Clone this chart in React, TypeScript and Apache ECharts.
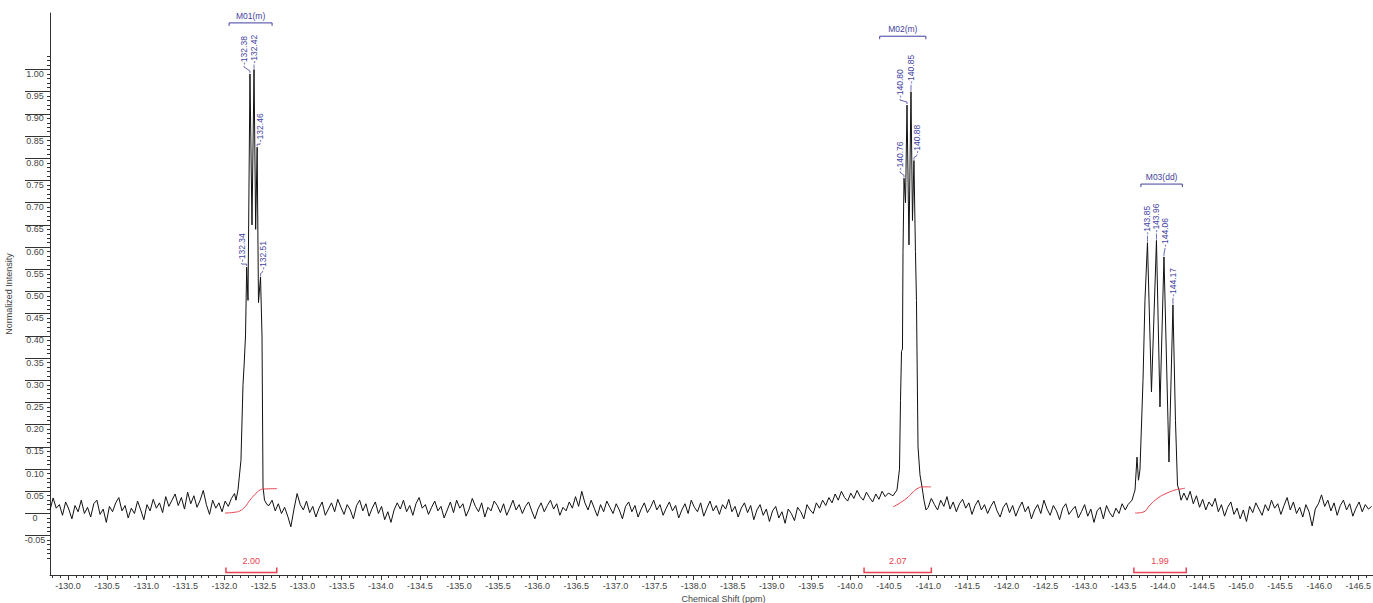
import React, { useEffect, useRef } from 'react';
import * as echarts from 'echarts';

// ---------- axis tick labels ----------
const X_TICK_LABELS = ['-130.0','-130.5','-131.0','-131.5','-132.0','-132.5','-133.0','-133.5','-134.0','-134.5','-135.0','-135.5','-136.0','-136.5','-137.0','-137.5','-138.0','-138.5','-139.0','-139.5','-140.0','-140.5','-141.0','-141.5','-142.0','-142.5','-143.0','-143.5','-144.0','-144.5','-145.0','-145.5','-146.0','-146.5'];
const Y_TICK_LABELS = ['-0.05','0','0.05','0.10','0.15','0.20','0.25','0.30','0.35','0.40','0.45','0.50','0.55','0.60','0.65','0.70','0.75','0.80','0.85','0.90','0.95','1.00'];

// ---------- baseline (noise) segments, sampled every 0.04 ppm ----------
const STEP = 0.04;
const SEG1_START = -129.77;
const SEG1 = [0.008,0.035,0.012,0.02,-0.004,0.026,0.01,-0.012,0.018,0.004,
  0.03,0.0,0.014,-0.008,0.022,0.03,-0.002,0.01,-0.02,0.016,
  0.004,0.024,0.036,0.006,0.018,-0.01,0.012,0.0,0.028,0.008,
  -0.014,0.02,0.006,0.032,0.012,0.024,0.002,0.038,0.016,0.03,
  0.044,0.018,0.036,0.01,0.048,0.022,0.04,0.014,0.03,0.052,
  0.02,-0.002,0.03,0.012,0.024,0.004,0.028,0.016,0.034,0.045];
const SEG2_START = -132.57;
const SEG2 = [0.018,0.03,0.006,0.022,0.0,0.014,-0.006,-0.03,0.01,0.045,
  0.02,0.008,0.028,0.002,0.016,-0.008,0.012,0.026,-0.004,0.01,
  0.024,0.004,0.032,0.014,-0.002,0.02,0.008,-0.012,0.018,0.03,
  0.006,0.022,-0.006,0.012,0.026,0.0,0.016,-0.014,0.004,-0.02,
  0.008,0.024,0.01,0.03,0.004,0.018,-0.004,0.022,0.036,0.012,
  0.02,-0.002,0.014,0.028,0.006,0.016,-0.01,0.008,0.026,0.002,
  0.03,0.012,0.022,-0.006,0.01,0.034,0.016,0.004,0.024,-0.008,
  0.014,0.006,0.028,0.018,0.002,0.022,-0.004,0.012,0.03,0.008,
  0.02,0.0,0.016,0.026,0.006,-0.012,0.01,0.024,0.004,0.018,
  0.03,0.01,0.022,-0.004,0.014,0.006,0.026,0.012,0.038,0.016,
  0.05,0.024,0.008,0.03,0.012,-0.006,0.02,0.004,0.028,0.014,
  0.0,0.022,0.008,-0.012,0.016,0.026,0.004,0.018,-0.008,0.01,
  0.024,0.002,0.014,0.03,0.008,0.02,-0.004,0.012,0.026,0.006,
  0.018,-0.01,0.008,0.022,0.0,0.03,0.014,0.004,0.024,-0.006,
  0.012,0.028,0.006,0.018,-0.002,0.02,0.01,0.032,0.004,0.016,
  -0.008,0.012,0.024,0.002,0.018,-0.014,0.008,0.02,-0.004,0.01,
  -0.018,0.006,0.016,-0.01,0.004,-0.022,0.01,0.0,-0.016,0.014,
  0.004,-0.012,0.02,0.008,0.0,0.024,0.012,0.03,0.018,0.036,
  0.024,0.044,0.03,0.05,0.036,0.028,0.046,0.034,0.052,0.038,
  0.03,0.048,0.036,0.026,0.044,0.032,0.05,0.038,0.046,0.042];
const SEG3_START = -141.0;
const SEG3 = [0.014,0.034,0.02,0.008,0.03,0.016,0.038,0.01,0.026,0.004,
  0.022,0.032,0.012,0.024,-0.002,0.018,0.03,0.008,0.02,0.0,
  0.016,0.028,0.006,-0.008,0.014,0.024,0.002,0.018,-0.006,0.012,
  0.026,0.004,0.016,-0.012,0.008,0.02,0.0,0.03,0.01,-0.004,
  0.018,0.006,-0.014,0.012,0.022,-0.002,0.008,0.016,-0.01,0.004,
  0.02,-0.006,0.01,-0.02,0.006,0.014,-0.012,0.018,0.002,-0.008,
  0.012,0.0,0.022,0.008];
const SEG4_START = -144.27;
const SEG4 = [0.046,0.03,0.05,0.022,0.04,0.014,0.032,0.008,0.026,0.016,
  0.034,0.004,0.02,-0.006,0.014,0.026,-0.002,0.012,-0.012,0.008,
  -0.018,0.016,0.002,0.024,0.01,-0.004,0.02,0.006,0.03,0.012,
  0.022,-0.002,0.018,0.036,0.008,0.026,0.0,0.014,-0.008,0.02,
  0.004,-0.028,0.01,0.022,0.042,0.016,0.03,0.006,0.024,-0.004,
  0.018,0.03,0.008,0.022,-0.006,0.012,0.026,0.004,0.02,0.01,0.016];

// ---------- multiplets ----------
const M01_SHIFT = [-132.148,-132.174,-132.212,-132.238,-132.251,-132.270,-132.285,-132.302,-132.327,-132.353,-132.379,-132.400,-132.419,-132.436,-132.462,-132.481,-132.494,-132.513,-132.545];
const M01_INT = [0.03,0.053,0.12,0.29,0.33,0.40,0.555,0.48,0.99,0.65,1.0,0.64,0.825,0.475,0.533,0.40,0.06,0.03,0.02];
const M02_SHIFT = [-140.550,-140.601,-140.633,-140.646,-140.659,-140.671,-140.678,-140.691,-140.710,-140.729,-140.754,-140.780,-140.799,-140.818,-140.837,-140.850,-140.870,-140.895,-140.921,-140.946,-140.972];
const M02_INT = [0.04,0.053,0.10,0.255,0.365,0.37,0.59,0.755,0.70,0.92,0.605,0.95,0.66,0.795,0.59,0.48,0.15,0.087,0.06,0.03,0.008];
const M03_SHIFT = [-143.555,-143.606,-143.645,-143.670,-143.689,-143.708,-143.747,-143.772,-143.804,-143.855,-143.919,-143.964,-144.015,-144.079,-144.130,-144.162,-144.188,-144.207,-144.233];
const M03_INT = [0.02,0.03,0.053,0.127,0.075,0.098,0.30,0.48,0.61,0.274,0.615,0.24,0.578,0.116,0.47,0.21,0.064,0.053,0.03];

// ---------- integral curves ----------
const INT1_SHIFT = [-132.008,-132.136,-132.199,-132.263,-132.327,-132.391,-132.455,-132.494,-132.673];
const INT1_VAL = [0.001,0.003,0.006,0.015,0.03,0.043,0.053,0.055,0.056];
const INT2_SHIFT = [-140.55,-140.614,-140.729,-140.793,-140.870,-140.934,-141.036];
const INT2_VAL = [0.015,0.021,0.035,0.046,0.057,0.06,0.06];
const INT3_SHIFT = [-143.645,-143.747,-143.836,-143.939,-144.054,-144.156,-144.22,-144.284];
const INT3_VAL = [0.001,0.003,0.019,0.035,0.046,0.053,0.055,0.057];

// ---------- annotations ----------
const PEAK_LABELS = ['-132.34','-132.38','-132.42','-132.46','-132.51','-140.76','-140.80','-140.85','-140.88','-143.85','-143.96','-144.06','-144.17'];
const PEAK_AT = [-132.285,-132.327,-132.379,-132.419,-132.462,-140.691,-140.729,-140.780,-140.818,-143.804,-143.919,-144.015,-144.130];
const LABEL_DX = [-5,-6,0,3,2,-4,-7,0,3,0,0,1,0];
const LABEL_GAP = [5,9,6,5,7,8,7,8,7,8,8,10,8];

const MULTIPLET_NAMES = ['M01(m)','M02(m)','M03(dd)'];
const MULTIPLET_FROM = [-132.06,-140.38,-143.72];
const MULTIPLET_TO = [-132.61,-140.97,-144.25];
const MULTIPLET_LEVEL = [1.105,1.075,0.742];

const INTEGRAL_TEXT = ['2.00','2.07','1.99'];
const INTEGRAL_FROM = [-132.02,-140.18,-143.63];
const INTEGRAL_TO = [-132.67,-141.04,-144.30];
const INTEGRAL_LEVEL = -0.133;

const X_MIN = -146.688;
const X_MAX = -129.77;
const Y_MIN = -0.1385;
const Y_MAX = 1.1273;

const FONT = '"Liberation Sans", Arial, sans-serif';
const BLUE = '#3f3fa0';
const RED = '#e8424f';

function buildSpectrum(): [number, number][] {
  const pts: [number, number][] = [];
  const addSeg = (start: number, vals: number[]) =>
    vals.forEach((v, i) => pts.push([+(start - i * STEP).toFixed(3), v]));
  addSeg(SEG1_START, SEG1);
  addSeg(SEG2_START, SEG2);
  addSeg(SEG3_START, SEG3);
  addSeg(SEG4_START, SEG4);
  const addPk = (s: number[], v: number[]) => s.forEach((x, i) => pts.push([x, v[i]]));
  addPk(M01_SHIFT, M01_INT);
  addPk(M02_SHIFT, M02_INT);
  addPk(M03_SHIFT, M03_INT);
  pts.sort((a, b) => b[0] - a[0]);
  return pts;
}

const zip = (a: number[], b: number[]) => a.map((x, i) => [x, b[i]]);

export default function App() {
  const ref = useRef<HTMLDivElement>(null);
  useEffect(() => {
    if (!ref.current) return;
    const chart = echarts.init(ref.current, null, { renderer: 'svg' });
    const spectrum = buildSpectrum();
    const xMajor = X_TICK_LABELS.map(Number);
    const yMajor = Y_TICK_LABELS.map(Number);
    const xMinor: number[] = [];
    for (let i = 1298; i <= 1466; i++) xMinor.push(-i / 10);
    const yMinor: number[] = [];
    for (let i = -10; i <= 103; i++) yMinor.push(i / 100);

    const axisColor = '#333';
    const textColor = '#444';

    chart.setOption({
      animation: false,
      backgroundColor: '#fff',
      grid: { left: 50, right: 0, top: 13, bottom: 28, containLabel: false, outerBoundsMode: 'none' },
      xAxis: [
        {
          type: 'value', inverse: true, min: X_MIN, max: X_MAX, position: 'bottom',
          name: 'Chemical Shift (ppm)', nameLocation: 'middle', nameGap: 14,
          nameTextStyle: { fontFamily: FONT, fontSize: 9, color: textColor, padding: [0, 0, 0, 24] },
          axisLine: { show: true, onZero: false, lineStyle: { color: axisColor, width: 1 } },
          axisTick: { show: true, customValues: xMajor, length: 5, lineStyle: { color: axisColor } },
          axisLabel: { show: true, customValues: xMajor, margin: 6, fontFamily: FONT, fontSize: 9, color: textColor,
            formatter: (v: number) => v.toFixed(1) },
          splitLine: { show: false },
        },
        {
          type: 'value', inverse: true, min: X_MIN, max: X_MAX, position: 'bottom',
          axisLine: { show: false, onZero: false },
          axisTick: { show: true, customValues: xMinor, length: 3, lineStyle: { color: axisColor } },
          axisLabel: { show: false },
          splitLine: { show: false },
        },
      ],
      yAxis: [
        {
          type: 'value', min: Y_MIN, max: Y_MAX, position: 'left',
          name: 'Normalized Intensity', nameLocation: 'middle', nameGap: 29,
          nameTextStyle: { fontFamily: FONT, fontSize: 9, color: textColor },
          axisLine: { show: true, onZero: false, lineStyle: { color: axisColor, width: 1 } },
          axisTick: { show: true, customValues: yMajor, length: 25, lineStyle: { color: axisColor } },
          axisLabel: { show: true, customValues: yMajor, margin: 15, align: 'center', verticalAlign: 'top',
            fontFamily: FONT, fontSize: 9, color: textColor,
            formatter: (v: number) => (Math.abs(v) < 1e-9 ? '0' : v.toFixed(2)) },
          splitLine: { show: false },
        },
        {
          type: 'value', min: Y_MIN, max: Y_MAX, position: 'left',
          axisLine: { show: false, onZero: false },
          axisTick: { show: true, customValues: yMinor, length: 3, lineStyle: { color: axisColor } },
          axisLabel: { show: false },
          splitLine: { show: false },
        },
      ],
      series: [
        { type: 'line', data: spectrum, symbol: 'none', lineStyle: { color: '#111', width: 1 }, xAxisIndex: 0, yAxisIndex: 0, z: 3 },
        { type: 'line', data: zip(INT1_SHIFT, INT1_VAL), smooth: true, symbol: 'none', lineStyle: { color: RED, width: 1 }, z: 4 },
        { type: 'line', data: zip(INT2_SHIFT, INT2_VAL), smooth: true, symbol: 'none', lineStyle: { color: RED, width: 1 }, z: 4 },
        { type: 'line', data: zip(INT3_SHIFT, INT3_VAL), smooth: true, symbol: 'none', lineStyle: { color: RED, width: 1 }, z: 4 },
      ],
    });

    const px = (x: number, y: number) => chart.convertToPixel({ xAxisIndex: 0, yAxisIndex: 0 }, [x, y]) as number[];
    const graphics: any[] = [];

    PEAK_LABELS.forEach((lab, i) => {
      const pt = spectrum.find((p) => Math.abs(p[0] - PEAK_AT[i]) < 1e-6);
      if (!pt) return;
      const [pxX, pxY] = px(pt[0], pt[1]);
      const lx = pxX + LABEL_DX[i];
      const bottom = pxY - LABEL_GAP[i];
      graphics.push({
        type: 'text', x: lx, y: bottom, rotation: Math.PI / 2,
        style: { text: lab, fill: BLUE, font: `8.5px ${FONT}`, align: 'left', verticalAlign: 'middle' },
      });
      graphics.push({
        type: 'polyline',
        shape: { points: [[lx, bottom + 1], [lx, bottom + 2], [pxX, pxY - 3], [pxX, pxY - 1]] },
        style: { stroke: BLUE, lineWidth: 0.8, fill: null },
      });
    });

    MULTIPLET_NAMES.forEach((name, i) => {
      const [x1, y] = px(MULTIPLET_FROM[i], MULTIPLET_LEVEL[i]);
      const [x2] = px(MULTIPLET_TO[i], MULTIPLET_LEVEL[i]);
      graphics.push({
        type: 'polyline',
        shape: { points: [[x1, y + 3], [x1, y], [x2, y], [x2, y + 3]] },
        style: { stroke: BLUE, lineWidth: 1, fill: null },
      });
      graphics.push({
        type: 'text', x: (x1 + x2) / 2, y: y - 7,
        style: { text: name, fill: BLUE, font: `8.5px ${FONT}`, align: 'center', verticalAlign: 'middle' },
      });
    });

    INTEGRAL_TEXT.forEach((t, i) => {
      const [x1, y] = px(INTEGRAL_FROM[i], INTEGRAL_LEVEL);
      const [x2] = px(INTEGRAL_TO[i], INTEGRAL_LEVEL);
      graphics.push({
        type: 'polyline',
        shape: { points: [[x1, y - 5], [x1, y], [x2, y], [x2, y - 5]] },
        style: { stroke: RED, lineWidth: 1.5, fill: null },
      });
      graphics.push({
        type: 'text', x: (x1 + x2) / 2, y: y - 12,
        style: { text: t, fill: RED, font: `9px ${FONT}`, align: 'center', verticalAlign: 'middle' },
      });
    });

    chart.setOption({ graphic: graphics });
    return () => chart.dispose();
  }, []);

  return (
    <div
      ref={ref}
      style={{ position: 'absolute', left: 0, top: 0, width: 1373, height: 603, background: '#fff' }}
    />
  );
}
